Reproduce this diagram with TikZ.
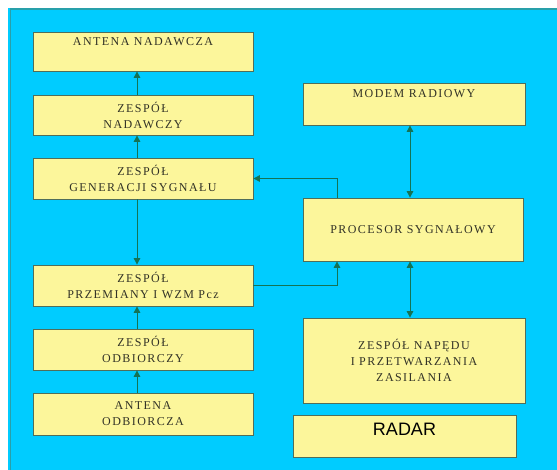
\documentclass[tikz,border=0pt]{standalone}
\usepackage{fontspec}
\usetikzlibrary{arrows.meta}
\newfontfamily\boxfont[LetterSpace=12]{Liberation Serif}
\newfontfamily\radarfont{Liberation Sans}
\definecolor{cyanbg}{RGB}{0,204,255}
\definecolor{framec}{RGB}{40,160,170}
\definecolor{boxfill}{RGB}{252,246,155}
\definecolor{boxborder}{RGB}{80,110,90}
\definecolor{linec}{RGB}{20,115,85}
\definecolor{txtc}{RGB}{50,50,38}
\begin{document}
\begin{tikzpicture}[x=1pt,y=-1pt,
  box/.style={draw=boxborder, fill=boxfill, line width=0.8pt, inner sep=0pt,
    minimum width=220pt, align=center, text=txtc,
    font=\boxfont\fontsize{12}{16}\selectfont},
  conn/.style={draw=linec, line width=1pt,
    -{Triangle[width=6.5pt,length=6.5pt]}},
  dconn/.style={draw=linec, line width=1pt,
    {Triangle[width=6.5pt,length=6.5pt]}-{Triangle[width=6.5pt,length=6.5pt]}}]
\useasboundingbox (0,0) rectangle (557,470);
\fill[cyanbg] (8,8) rectangle (557,470);
\draw[framec, line width=1.5pt] (10.5,470) -- (10.5,9) -- (557,9);

% left column
\node[box, minimum height=39pt, text depth=20pt] (a1) at (143,51.5) {ANTENA NADAWCZA};
\node[box, minimum height=40pt] (a2) at (143,115) {ZESPÓŁ\\NADAWCZY};
\node[box, minimum height=41pt] (a3) at (143,178.5) {ZESPÓŁ\\GENERACJI SYGNAŁU};
\node[box, minimum height=41pt] (a4) at (143,285.5) {ZESPÓŁ\\PRZEMIANY I WZM Pcz};
\node[box, minimum height=41pt] (a5) at (143,349.5) {ZESPÓŁ\\ODBIORCZY};
\node[box, minimum height=42pt] (a6) at (143,414) {ANTENA\\ODBIORCZA};

% right column
\node[box, minimum width=222pt, minimum height=42pt, text depth=20pt] (m) at (414,104) {MODEM RADIOWY};
\node[box, minimum height=63pt] (p) at (413,229.5) {PROCESOR SYGNAŁOWY};
\node[box, minimum width=222pt, minimum height=85pt] (n) at (414,360.5) {ZESPÓŁ NAPĘDU\\I PRZETWARZANIA\\ZASILANIA};
\node[box, minimum width=223pt, minimum height=42pt, text depth=14pt,
  font=\radarfont\fontsize{18}{20}\selectfont, text=black] (r) at (404.5,436) {RADAR};

\coordinate (xl) at (137,0);
\coordinate (xr) at (410,0);
\coordinate (xf) at (337,0);

\draw[conn] (a2.north -| xl) -- (a1.south -| xl);
\draw[conn] (a3.north -| xl) -- (a2.south -| xl);
\draw[conn] (a3.south -| xl) -- (a4.north -| xl);
\draw[conn] (a5.north -| xl) -- (a4.south -| xl);
\draw[conn] (a6.north -| xl) -- (a5.south -| xl);

\draw[dconn] (m.south -| xr) -- (p.north -| xr);
\draw[dconn] (p.south -| xr) -- (n.north -| xr);

\draw[conn] (p.north -| xf) |- (a3.east);
\draw[conn] (a4.east) -| (p.south -| xf);
\end{tikzpicture}
\end{document}
